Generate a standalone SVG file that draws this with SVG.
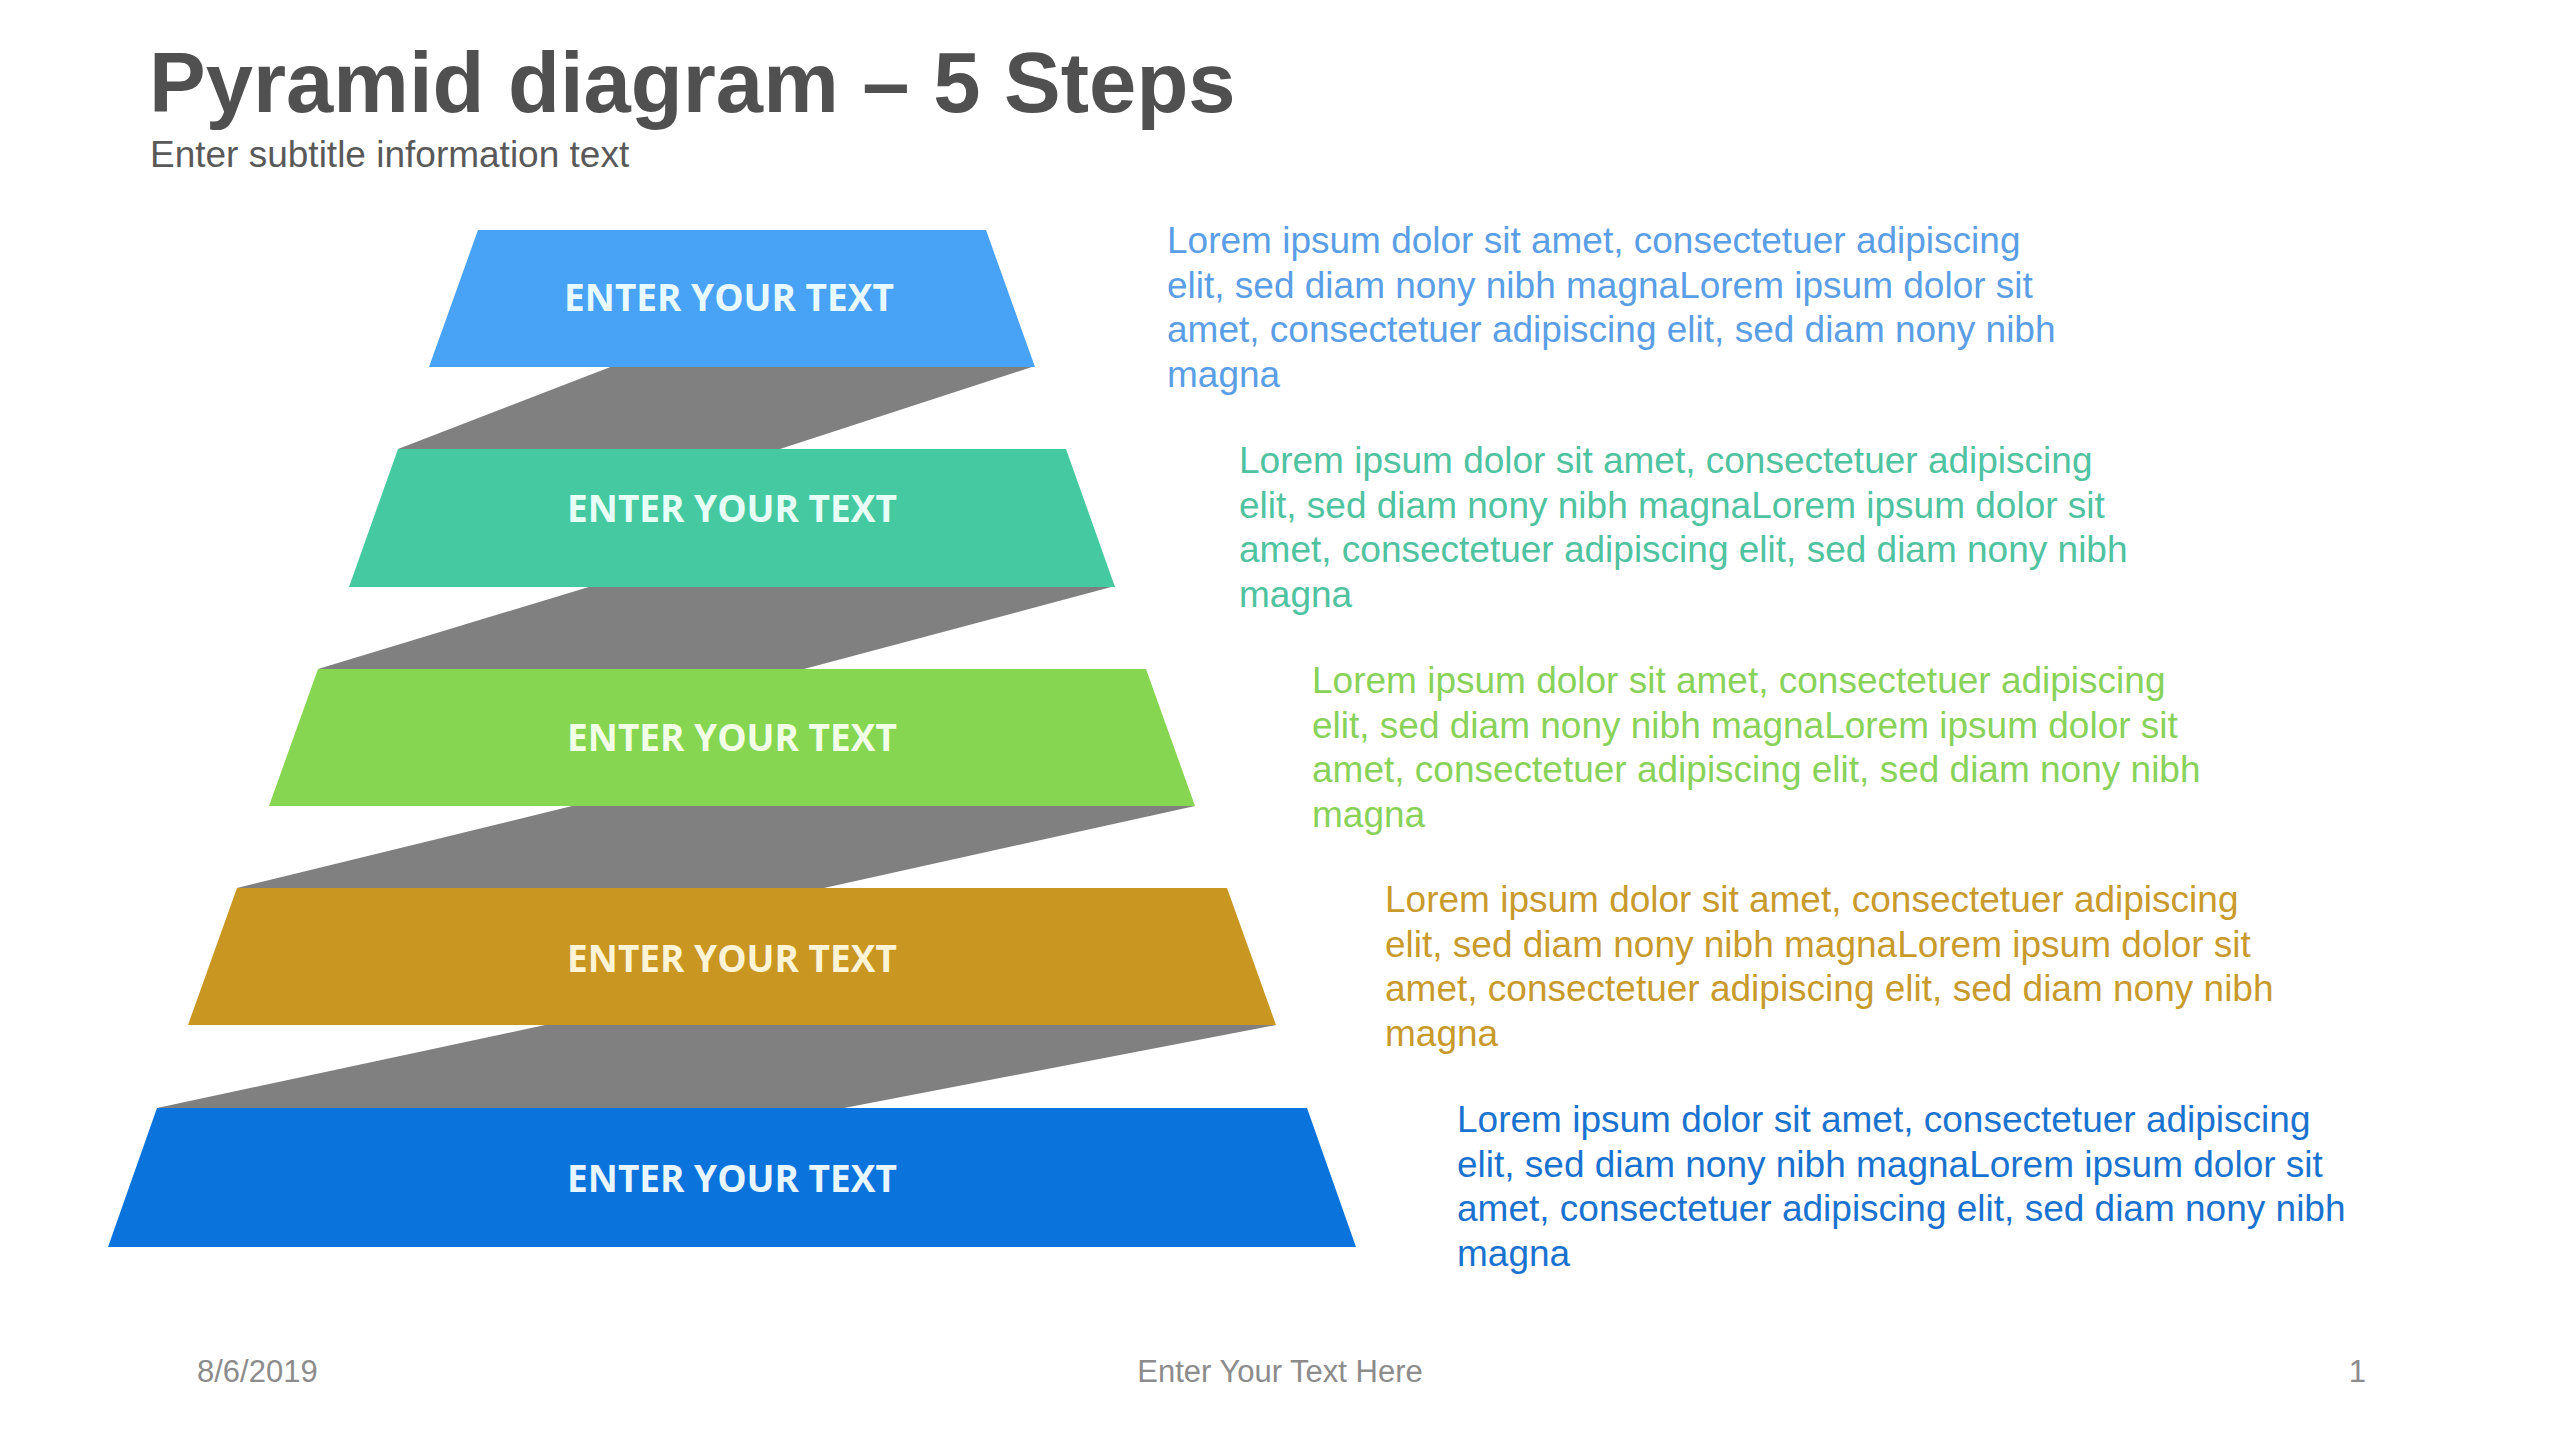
<svg xmlns="http://www.w3.org/2000/svg" width="2560" height="1438" viewBox="0 0 2560 1438">
<style>
.title{font-family:"Liberation Sans",Arial,sans-serif;font-weight:700;font-size:85px;fill:#505050}
.sub{font-family:"Liberation Sans",Arial,sans-serif;font-size:37px;fill:#595959}
.lbl{font-family:"Open Sans","Liberation Sans",sans-serif;font-weight:700;font-size:37px;text-anchor:middle}
.body{font-family:"Liberation Sans",Arial,sans-serif;font-size:37px}
.foot{font-family:"Liberation Sans",Arial,sans-serif;font-size:31px;fill:#8C8C8C}
.band{fill:#808080}
</style>
<rect width="2560" height="1438" fill="#FFFFFF"/>
<text class="title" x="149" y="112">Pyramid diagram – 5 Steps</text>
<text class="sub" x="150" y="167">Enter subtitle information text</text>

<g id="connectors">
<polygon class="band" points="613,366 1035,366 780,449 398,449"/>
<polygon class="band" points="592,586 1115,586 804,669 318,669"/>
<polygon class="band" points="572,806 1195,806 824,888 237,888"/>
<polygon class="band" points="545,1025 1276,1025 844,1108 157,1108"/>
</g>

<g id="step1">
<polygon points="478,230 986,230 1035,367 429,367" fill="#48A2F6"/>
<text class="lbl" x="729" y="311" fill="#E8FAFF">ENTER YOUR TEXT</text>
<text class="body" fill="#5A9EE6"><tspan x="1167" y="253">Lorem ipsum dolor sit amet, consectetuer adipiscing</tspan><tspan x="1167" y="297.5">elit, sed diam nony nibh magnaLorem ipsum dolor sit</tspan><tspan x="1167" y="342">amet, consectetuer adipiscing elit, sed diam nony nibh</tspan><tspan x="1167" y="386.5">magna</tspan></text>
</g>

<g id="step2">
<polygon points="398,449 1066,449 1115,587 349,587" fill="#45C9A1"/>
<text class="lbl" x="732" y="522" fill="#E8FFF8">ENTER YOUR TEXT</text>
<text class="body" fill="#4FC2A0"><tspan x="1239" y="473">Lorem ipsum dolor sit amet, consectetuer adipiscing</tspan><tspan x="1239" y="517.5">elit, sed diam nony nibh magnaLorem ipsum dolor sit</tspan><tspan x="1239" y="562">amet, consectetuer adipiscing elit, sed diam nony nibh</tspan><tspan x="1239" y="606.5">magna</tspan></text>
</g>

<g id="step3">
<polygon points="318,669 1146,669 1195,806 269,806" fill="#86D652"/>
<text class="lbl" x="732" y="751" fill="#F2FFE6">ENTER YOUR TEXT</text>
<text class="body" fill="#88D25A"><tspan x="1312" y="693">Lorem ipsum dolor sit amet, consectetuer adipiscing</tspan><tspan x="1312" y="737.5">elit, sed diam nony nibh magnaLorem ipsum dolor sit</tspan><tspan x="1312" y="782">amet, consectetuer adipiscing elit, sed diam nony nibh</tspan><tspan x="1312" y="826.5">magna</tspan></text>
</g>

<g id="step4">
<polygon points="237,888 1227,888 1276,1025 188,1025" fill="#C99622"/>
<text class="lbl" x="732" y="972" fill="#FFF4D6">ENTER YOUR TEXT</text>
<text class="body" fill="#C89A2C"><tspan x="1385" y="912">Lorem ipsum dolor sit amet, consectetuer adipiscing</tspan><tspan x="1385" y="956.5">elit, sed diam nony nibh magnaLorem ipsum dolor sit</tspan><tspan x="1385" y="1001">amet, consectetuer adipiscing elit, sed diam nony nibh</tspan><tspan x="1385" y="1045.5">magna</tspan></text>
</g>

<g id="step5">
<polygon points="157,1108 1307,1108 1356,1247 108,1247" fill="#0A73DC"/>
<text class="lbl" x="732" y="1192" fill="#E8F6FF">ENTER YOUR TEXT</text>
<text class="body" fill="#1A72CF"><tspan x="1457" y="1132">Lorem ipsum dolor sit amet, consectetuer adipiscing</tspan><tspan x="1457" y="1176.5">elit, sed diam nony nibh magnaLorem ipsum dolor sit</tspan><tspan x="1457" y="1221">amet, consectetuer adipiscing elit, sed diam nony nibh</tspan><tspan x="1457" y="1265.5">magna</tspan></text>
</g>

<text class="foot" x="197" y="1382">8/6/2019</text>
<text class="foot" x="1280" y="1382" text-anchor="middle">Enter Your Text Here</text>
<text class="foot" x="2366" y="1382" text-anchor="end">1</text>
</svg>
